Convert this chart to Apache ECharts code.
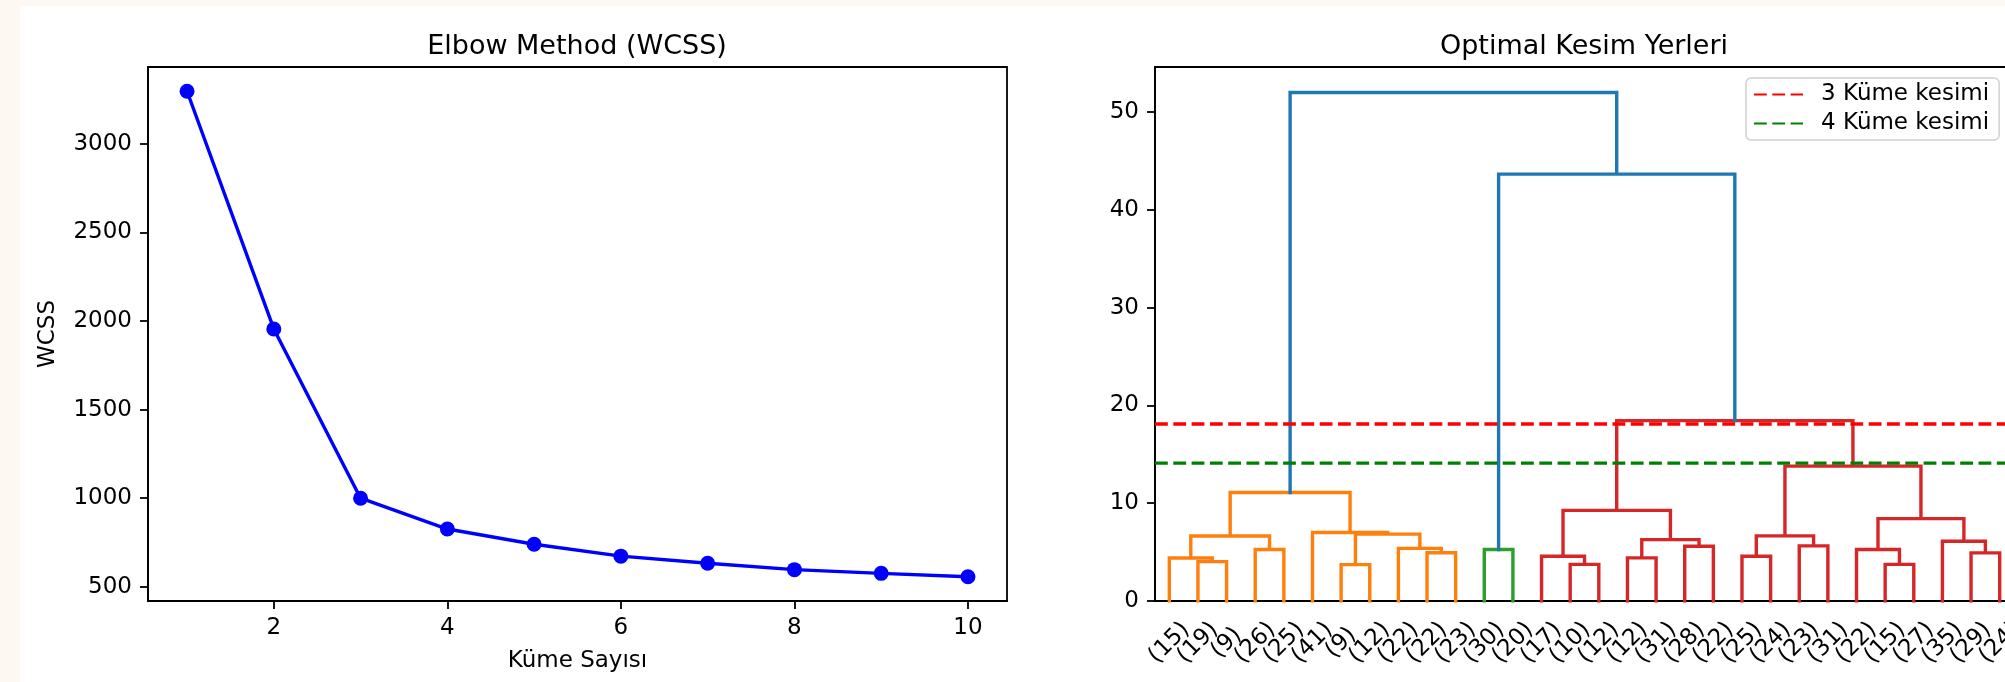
<!DOCTYPE html>
<html><head><meta charset="utf-8">
<script src="https://cdn.jsdelivr.net/npm/echarts@6/dist/echarts.min.js"></script>
<style>
html,body{margin:0;padding:0;background:#fdf8f2;width:2005px;height:682px;overflow:hidden;position:relative;}
#bg{position:absolute;left:20px;top:6px;width:1985px;height:676px;background:#ffffff;}
#chart{position:absolute;left:0;top:0;width:2120px;height:682px;}
</style></head><body><div id="bg"></div><div id="chart"></div>
<script>
// ---- Elbow chart data ----
const kValues = [1, 2, 3, 4, 5, 6, 7, 8, 9, 10];
const wcssValues = [3296, 1955, 1000, 826, 740, 673, 633, 597, 576, 557];
const elbowXTicks = [2, 4, 6, 8, 10];
const elbowYTicks = [500, 1000, 1500, 2000, 2500, 3000];

// ---- Dendrogram data (30 truncated leaves, scipy-like linkage) ----
const leafLabels = ['(15)','(19)','(9)','(26)','(25)','(41)','(9)','(12)','(22)','(22)','(23)',
  '(30)','(20)',
  '(17)','(10)','(12)','(12)','(31)','(28)','(22)','(25)','(24)','(23)','(31)','(22)','(15)','(27)','(35)','(29)','(24)'];
const mergeLeft   = [1, 0, 3, 31, 6, 9, 8, 34, 5, 33, 11, 14, 13, 16, 18, 43, 42, 20, 22, 47, 25, 24, 28, 27, 51, 49, 46, 40, 39];
const mergeRight  = [2, 30, 4, 32, 7, 10, 35, 36, 37, 38, 12, 15, 41, 17, 19, 44, 45, 21, 23, 48, 26, 50, 29, 52, 53, 54, 55, 56, 57];
const mergeHeight = [4.03, 4.39, 5.27, 6.65, 3.72, 4.93, 5.38, 6.84, 7.0, 11.1, 5.27, 3.74, 4.58, 4.41, 5.6, 6.28, 9.27, 4.58, 5.64, 6.66, 3.74, 5.26, 4.92, 6.11, 8.42, 13.79, 18.44, 43.65, 52.0];
const mergeGroup  = ['C1','C1','C1','C1','C1','C1','C1','C1','C1','C1','C2',
  'C3','C3','C3','C3','C3','C3','C3','C3','C3','C3','C3','C3','C3','C3','C3','C3','C0','C0'];
const cutHeights = [18.1, 14.1];
const cutNames = ['3 Küme kesimi', '4 Küme kesimi'];
const dendroYTicks = [0, 10, 20, 30, 40, 50];

const groupColors = {C0: '#1f77b4', C1: '#ff7f0e', C2: '#2ca02c', C3: '#d62728'};
const cutColors = ['#ff0000', '#008000'];

// build link polylines in data space
const nLeaves = leafLabels.length;
const xMaxD = nLeaves * 10;
const leafX = leafLabels.map((_, i) => 5 + 10 * i);
const nodeX = leafX.slice(), nodeY = leafX.map(() => 0);
const groupPts = {};
mergeLeft.forEach((l, j) => {
  const r = mergeRight[j], h = mergeHeight[j];
  const g = mergeGroup[j];
  (groupPts[g] = groupPts[g] || []).push(
    [nodeX[l], nodeY[l]], [nodeX[l], h], [nodeX[r], h], [nodeX[r], nodeY[r]], [null, null]);
  nodeX.push((nodeX[l] + nodeX[r]) / 2);
  nodeY.push(h);
});
const dMax = Math.max(...mergeHeight) * 1.05;
const labelValues = [0].concat(leafX, [xMaxD]);

const FONT = 'DejaVu Sans';
const LW = 3.4;
const axisLineStyle = {show: true, onZero: false, lineStyle: {color: '#000', width: 1.8}};
const tickStyle = {color: '#000', width: 1.8};
const labelBase = {color: '#000', fontSize: 23, fontFamily: FONT};
const plain = v => String(v);

const series = [{
  type: 'line', xAxisIndex: 0, yAxisIndex: 0,
  data: kValues.map((k, i) => [k, wcssValues[i]]),
  symbol: 'circle', symbolSize: 15, showSymbol: true,
  lineStyle: {color: '#0000ff', width: LW},
  itemStyle: {color: '#0000ff'},
  animation: false, silent: true
}];
['C1', 'C2', 'C3', 'C0'].forEach(g => {
  series.push({
    type: 'line', xAxisIndex: 1, yAxisIndex: 1, data: groupPts[g],
    symbol: 'none', connectNulls: false,
    lineStyle: {color: groupColors[g], width: LW, join: 'miter', cap: 'square'},
    animation: false, silent: true
  });
});
cutHeights.forEach((h, i) => {
  series.push({
    type: 'line', name: cutNames[i], xAxisIndex: 1, yAxisIndex: 1,
    data: [[0, h], [xMaxD, h]], symbol: 'none',
    lineStyle: {color: cutColors[i], width: LW, type: [12.8, 5.5]},
    itemStyle: {color: cutColors[i]},
    animation: false, silent: true, z: 5
  });
});

const chart = echarts.init(document.getElementById('chart'), null, {renderer: 'canvas'});
chart.setOption({
  backgroundColor: 'transparent',
  animation: false,
  title: [
    {text: 'Elbow Method (WCSS)', left: 577, top: 33, textAlign: 'center', padding: 0,
     textStyle: {color: '#000', fontSize: 27, fontWeight: 'normal', fontFamily: FONT}},
    {text: 'Optimal Kesim Yerleri', left: 1584, top: 33, textAlign: 'center', padding: 0,
     textStyle: {color: '#000', fontSize: 27, fontWeight: 'normal', fontFamily: FONT}}
  ],
  legend: {
    data: cutNames, orient: 'vertical', left: 1746, top: 78,
    itemWidth: 49, itemHeight: 14, itemGap: 6,
    padding: [5, 10, 5, 7],
    backgroundColor: 'rgba(255,255,255,0.8)', borderColor: '#d0d0d0', borderWidth: 1.5, borderRadius: 5,
    itemStyle: {color: 'transparent', borderColor: 'transparent', borderWidth: 0},
    textStyle: {color: '#000', fontSize: 23, fontFamily: FONT, padding: [0, 0, 0, 13]},
    selectedMode: false
  },
  grid: [
    {left: 148, top: 67, width: 859, height: 534, show: true, borderColor: '#000', borderWidth: 1.8},
    {left: 1155, top: 67, width: 859, height: 534, show: true, borderColor: '#000', borderWidth: 1.8}
  ],
  xAxis: [
    {gridIndex: 0, type: 'value', min: 0.55, max: 10.45,
     name: 'Küme Sayısı', nameLocation: 'middle', nameGap: 49,
     nameTextStyle: labelBase,
     axisLine: axisLineStyle,
     axisTick: {show: true, length: 8, lineStyle: tickStyle, customValues: elbowXTicks},
     axisLabel: Object.assign({margin: 16, customValues: elbowXTicks, formatter: plain}, labelBase),
     splitLine: {show: false}},
    {gridIndex: 1, type: 'value', min: 0, max: xMaxD,
     axisLine: axisLineStyle,
     axisTick: {show: false},
     axisLabel: Object.assign({margin: 42, rotate: 45, align: 'center', verticalAlign: 'middle',
       customValues: labelValues, showMinLabel: false, showMaxLabel: false, hideOverlap: false,
       formatter: v => { const i = (v - 5) / 10; return (i >= 0 && i < nLeaves) ? leafLabels[Math.round(i)] : ''; }}, labelBase),
     splitLine: {show: false}}
  ],
  yAxis: [
    {gridIndex: 0, type: 'value', min: 420, max: 3433,
     name: 'WCSS', nameLocation: 'middle', nameGap: 88,
     nameTextStyle: labelBase,
     axisLine: axisLineStyle,
     axisTick: {show: true, length: 8, lineStyle: tickStyle, customValues: elbowYTicks},
     axisLabel: Object.assign({margin: 16, customValues: elbowYTicks, formatter: plain}, labelBase),
     splitLine: {show: false}},
    {gridIndex: 1, type: 'value', min: 0, max: dMax,
     axisLine: axisLineStyle,
     axisTick: {show: true, length: 8, lineStyle: tickStyle, customValues: dendroYTicks},
     axisLabel: Object.assign({margin: 16, customValues: dendroYTicks, formatter: plain}, labelBase),
     splitLine: {show: false}}
  ],
  series: series
});
</script></body></html>
